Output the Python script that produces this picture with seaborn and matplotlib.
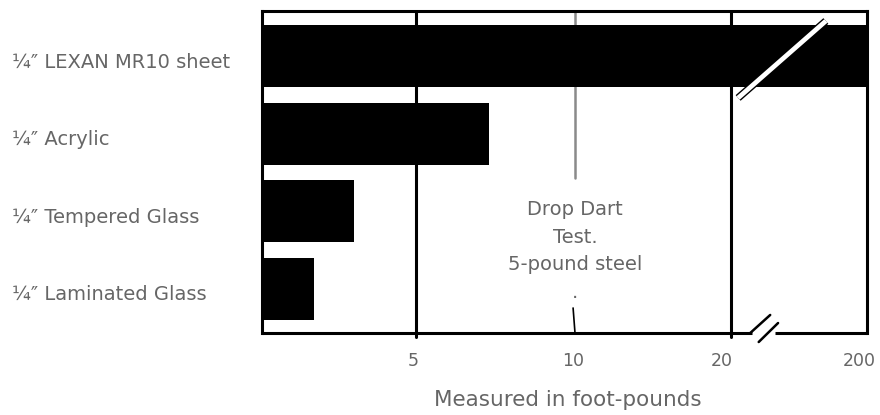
import numpy as np
import pandas as pd
import matplotlib
matplotlib.use("Agg")
import matplotlib.pyplot as plt
import matplotlib.patheffects as pe
import matplotlib.transforms as mtrans
import seaborn as sns

# ---- data ----
materials = ["¼″ LEXAN MR10 sheet", "¼″ Acrylic", "¼″ Tempered Glass", "¼″ Laminated Glass"]
impact_ftlb = [200, 7.3, 3.0, 1.7]
tick_values = [5, 10, 20, 200]
tick_labels = ["5", "10", "20", "200"]
scale_breaks = [0, 5, 10, 20, 200]
note_text = "Drop Dart\nTest.\n5-pound steel\n."
xlabel_text = "Measured in foot-pounds"

sns.set_theme(style="white")
plt.rcParams["font.family"] = ["DejaVu Sans"]
TXT = "#666666"

df = pd.DataFrame({"material": materials, "impact": impact_ftlb})

fig = plt.figure(figsize=(8.8, 4.15), dpi=100)
ax = fig.add_axes([262 / 880, 1 - 333 / 415, 605 / 880, 322 / 415])

sns.barplot(data=df, x="impact", y="material", orient="h", color="black",
            saturation=1, width=0.8, ax=ax, zorder=2)
for p in ax.patches:
    p.set_edgecolor("none")

# broken, piecewise-linear scale (equal spacing between 0,5,10,20 and 20->200 compressed)
seg_pos = [0, 154, 313, 469, 605]
fwd = lambda x: np.interp(x, scale_breaks, seg_pos)
inv = lambda y: np.interp(y, seg_pos, scale_breaks)
ax.set_xscale("function", functions=(fwd, inv))
ax.set_xlim(0, 200)
ax.set_ylim(3.57, -0.58)

# vertical reference lines
ax.axvline(5, ymin=-0.012, ymax=1, color="black", lw=2.2, zorder=1, clip_on=False)
ax.axvline(20, ymin=-0.012, ymax=1, color="black", lw=2.2, zorder=1, clip_on=False)
ax.axvline(10, ymin=(333 - 178) / 322, ymax=1, color="#8a8a8a", lw=1.8, zorder=1)
ax.plot([9.94, 10], [(333 - 308) / 322, 0.0], color="black", lw=1.2,
        transform=ax.get_xaxis_transform(), zorder=1)

# spines
for s in ["top", "left", "right"]:
    ax.spines[s].set_visible(True)
    ax.spines[s].set_color("black")
    ax.spines[s].set_linewidth(2.2)
ax.spines["bottom"].set_visible(False)
ax.plot([0, 0.810], [0, 0], transform=ax.transAxes, color="black", lw=2.2,
        clip_on=False, zorder=4, solid_capstyle="butt")
ax.plot([0.848, 1.0], [0, 0], transform=ax.transAxes, color="black", lw=2.2,
        clip_on=False, zorder=4, solid_capstyle="butt")

# break marks
ax.plot([0.787, 0.932], [0.730, 0.969], transform=ax.transAxes, color="white", lw=3.4,
        clip_on=False, zorder=5, solid_capstyle="butt",
        path_effects=[pe.Stroke(linewidth=5.4, foreground="black"), pe.Normal()])
ax.plot([0.807, 0.840], [0.0, 0.056], transform=ax.transAxes, color="black", lw=1.8,
        clip_on=False, zorder=5)
ax.plot([0.821, 0.853], [-0.028, 0.031], transform=ax.transAxes, color="black", lw=1.8,
        clip_on=False, zorder=5)

# ticks
ax.set_xticks(tick_values)
ax.set_xticklabels(tick_labels)
ax.tick_params(axis="x", length=0, pad=14, labelsize=12.5, labelcolor=TXT)
ax.tick_params(axis="y", length=0, pad=180, labelsize=14, labelcolor=TXT)
for lbl in ax.get_yticklabels():
    lbl.set_horizontalalignment("left")
shifts_px = [-3, -2, -9, -8]
for tick, dx in zip(ax.xaxis.get_major_ticks(), shifts_px):
    tick.label1.set_transform(tick.label1.get_transform() +
                              mtrans.ScaledTranslation(dx / 100, 0, fig.dpi_scale_trans))
for tick in ax.yaxis.get_major_ticks():
    tick.label1.set_transform(tick.label1.get_transform() +
                              mtrans.ScaledTranslation(0, -4 / 100, fig.dpi_scale_trans))

ax.set_ylabel("")
ax.set_xlabel(xlabel_text, fontsize=15.5, color=TXT)
ax.xaxis.set_label_coords((568 - 262) / 605, (333 - 400) / 322)
ax.xaxis.label.set_va("center")

ax.text(10, (333 - 251) / 322, note_text, transform=ax.get_xaxis_transform(),
        ha="center", va="center", multialignment="center", fontsize=14,
        color=TXT, linespacing=1.6, zorder=3)

fig.savefig("out.png", dpi=100)
